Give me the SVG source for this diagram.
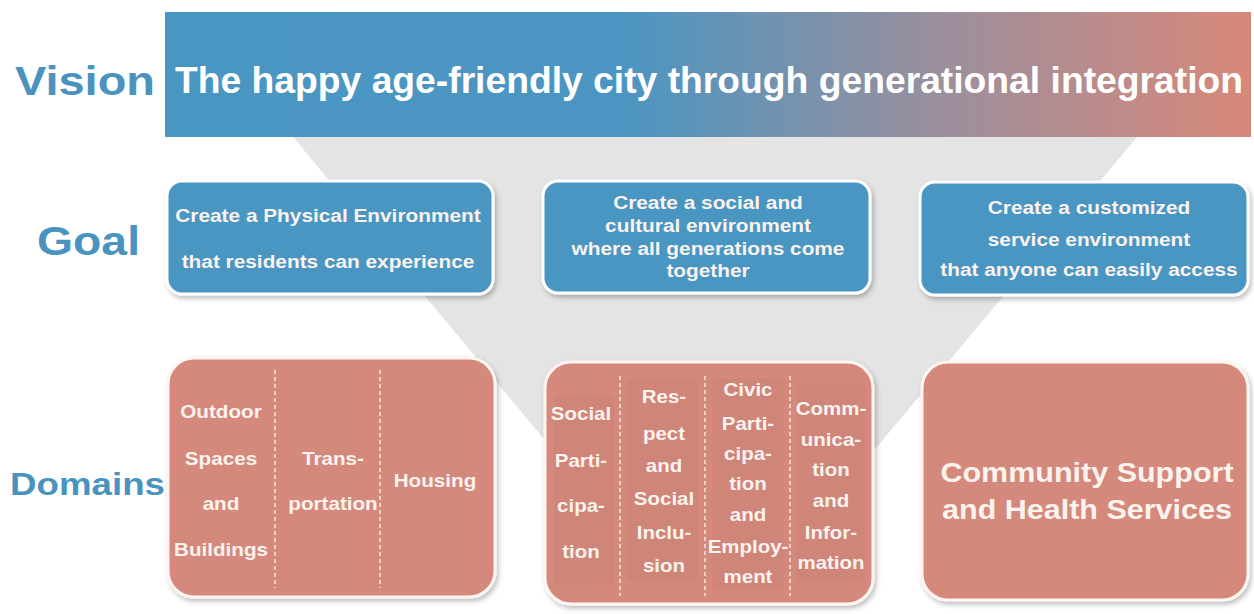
<svg xmlns="http://www.w3.org/2000/svg" width="1254" height="614" viewBox="0 0 1254 614">
<defs>
<linearGradient id="bannerGrad" x1="165" y1="0" x2="1250" y2="0" gradientUnits="userSpaceOnUse">
<stop offset="0" stop-color="#4a96c3"/>
<stop offset="0.42" stop-color="#4b95c2"/>
<stop offset="0.72" stop-color="#9c8f9c"/>
<stop offset="1" stop-color="#d8887a"/>
</linearGradient>
<filter id="sh" x="-10%" y="-10%" width="120%" height="125%">
<feDropShadow dx="2" dy="3" stdDeviation="2.5" flood-color="#000" flood-opacity="0.25"/>
</filter>
</defs>
<style>
.lbl{font-family:"Liberation Sans",Arial,sans-serif;font-weight:bold;fill:#4a93bf}
.wt{font-family:"Liberation Sans",Arial,sans-serif;font-weight:bold;fill:#fbf3ee;text-anchor:middle}
.g{font-size:17.5px}
.d{font-size:17.5px}
.goal{fill:#4a96c3;stroke:#ffffff;stroke-width:3}
.dom{fill:#d4897c;stroke:#fff5f0;stroke-width:3}
.div{stroke:#ead2cb;stroke-width:2;stroke-dasharray:4 3;fill:none}
.panel{fill:#cc8275}
</style>
<rect width="1254" height="614" fill="#ffffff"/>
<polygon id="funnel" points="293,137 1137,137 750,598 676,598" fill="#e4e4e4"/>

<g id="vision">
<rect x="165" y="12" width="1086" height="125" fill="url(#bannerGrad)"/>
<text x="175" y="93" class="wt" style="text-anchor:start;font-size:37px;fill:#ffffff" textLength="1068" lengthAdjust="spacingAndGlyphs">The happy age-friendly city through generational integration</text>
</g>
<text x="15" y="95" class="lbl" font-size="40" textLength="140" lengthAdjust="spacingAndGlyphs">Vision</text>
<text x="37" y="255" class="lbl" font-size="40" textLength="103" lengthAdjust="spacingAndGlyphs">Goal</text>
<text x="10" y="495" class="lbl" font-size="32" textLength="155" lengthAdjust="spacingAndGlyphs">Domains</text>

<g id="goal1">
<rect x="167" y="181" width="326" height="113" rx="15" class="goal" filter="url(#sh)"/>
<g transform="translate(328,0) scale(1.19,1) translate(-328,0)">
<text class="wt g" x="328" y="222">Create a Physical Environment</text>
<text class="wt g" x="328" y="268">that residents can experience</text>
</g>
</g>
<g id="goal2">
<rect x="543" y="181" width="327" height="112" rx="15" class="goal" filter="url(#sh)"/>
<g transform="translate(708,0) scale(1.19,1) translate(-708,0)">
<text class="wt g" x="708" y="209">Create a social and</text>
<text class="wt g" x="708" y="232">cultural environment</text>
<text class="wt g" x="708" y="255">where all generations come</text>
<text class="wt g" x="708" y="277">together</text>
</g>
</g>
<g id="goal3">
<rect x="920" y="182" width="328" height="113" rx="15" class="goal" filter="url(#sh)"/>
<g transform="translate(1089,0) scale(1.19,1) translate(-1089,0)">
<text class="wt g" x="1089" y="214">Create a customized</text>
<text class="wt g" x="1089" y="246">service environment</text>
<text class="wt g" x="1089" y="276">that anyone can easily access</text>
</g>
</g>

<g id="domain1">
<rect x="168" y="358" width="327" height="239" rx="26" class="dom" filter="url(#sh)"/>
<line class="div" x1="275" y1="370" x2="275" y2="588"/>
<line class="div" x1="380" y1="370" x2="380" y2="588"/>
<g transform="translate(221,0) scale(1.18,1) translate(-221,0)">
<text class="wt d" x="221" y="418">Outdoor</text>
<text class="wt d" x="221" y="465">Spaces</text>
<text class="wt d" x="221" y="510">and</text>
<text class="wt d" x="221" y="556">Buildings</text>
</g>
<g transform="translate(333,0) scale(1.18,1) translate(-333,0)">
<text class="wt d" x="333" y="465">Trans-</text>
<text class="wt d" x="333" y="510">portation</text>
</g>
<g transform="translate(435,0) scale(1.18,1) translate(-435,0)">
<text class="wt d" x="435" y="487">Housing</text>
</g>
</g>

<g id="domain2">
<rect x="545" y="362" width="328" height="242" rx="26" class="dom" filter="url(#sh)"/>
<rect class="panel" x="554" y="395" width="60" height="188" opacity="0.5"/>
<rect class="panel" x="628" y="380" width="70" height="200" opacity="0.5"/>
<rect class="panel" x="712" y="378" width="72" height="210" opacity="0.5"/>
<rect class="panel" x="797" y="385" width="68" height="195" opacity="0.5"/>
<line class="div" x1="620" y1="376" x2="620" y2="596"/>
<line class="div" x1="705" y1="376" x2="705" y2="596"/>
<line class="div" x1="790" y1="376" x2="790" y2="596"/>
<g transform="translate(581,0) scale(1.17,1) translate(-581,0)">
<text class="wt d" x="581" y="420">Social</text>
<text class="wt d" x="581" y="467">Parti-</text>
<text class="wt d" x="581" y="512">cipa-</text>
<text class="wt d" x="581" y="558">tion</text>
</g>
<g transform="translate(664,0) scale(1.17,1) translate(-664,0)">
<text class="wt d" x="664" y="403">Res-</text>
<text class="wt d" x="664" y="440">pect</text>
<text class="wt d" x="664" y="472">and</text>
<text class="wt d" x="664" y="505">Social</text>
<text class="wt d" x="664" y="539">Inclu-</text>
<text class="wt d" x="664" y="572">sion</text>
</g>
<g transform="translate(748,0) scale(1.17,1) translate(-748,0)">
<text class="wt d" x="748" y="396">Civic</text>
<text class="wt d" x="748" y="430">Parti-</text>
<text class="wt d" x="748" y="460">cipa-</text>
<text class="wt d" x="748" y="490">tion</text>
<text class="wt d" x="748" y="521">and</text>
<text class="wt d" x="748" y="553">Employ-</text>
<text class="wt d" x="748" y="583">ment</text>
</g>
<g transform="translate(831,0) scale(1.17,1) translate(-831,0)">
<text class="wt d" x="831" y="415">Comm-</text>
<text class="wt d" x="831" y="446">unica-</text>
<text class="wt d" x="831" y="476">tion</text>
<text class="wt d" x="831" y="507">and</text>
<text class="wt d" x="831" y="539">Infor-</text>
<text class="wt d" x="831" y="569">mation</text>
</g>
</g>

<g id="domain3">
<rect x="922" y="362" width="326" height="238" rx="26" class="dom" filter="url(#sh)"/>
<g transform="translate(1087,0) scale(1.09,1) translate(-1087,0)">
<text class="wt" font-size="28" x="1087" y="482">Community Support</text>
<text class="wt" font-size="28" x="1087" y="519">and Health Services</text>
</g>
</g>
<g id="connectors"></g>
</svg>
